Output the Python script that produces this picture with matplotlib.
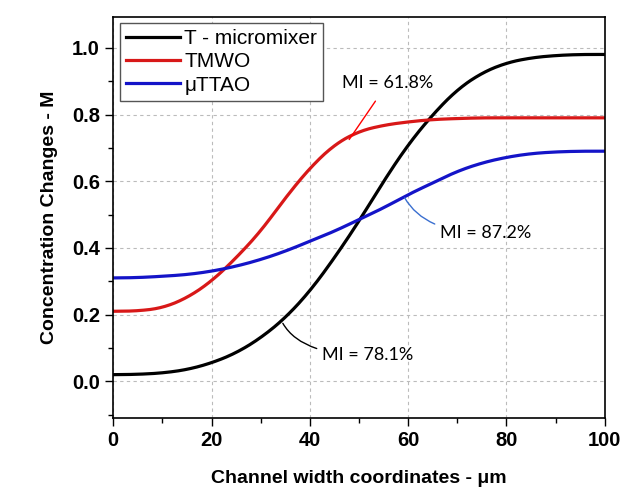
import numpy as np
import matplotlib
matplotlib.use('Agg')
import matplotlib.pyplot as plt
from matplotlib.ticker import MultipleLocator

plt.rcParams['font.family'] = ['Liberation Sans', 'DejaVu Sans']

# channel width positions (um) and concentration
x = [0, 5, 10, 15, 20, 25, 30, 35, 40, 45, 50, 55, 60, 65, 70, 75, 80, 85, 90, 95, 100]
t_mix = [0.02, 0.021, 0.025, 0.035, 0.055, 0.085, 0.13, 0.19, 0.27, 0.37, 0.48,
         0.60, 0.71, 0.80, 0.875, 0.925, 0.955, 0.97, 0.977, 0.98, 0.98]
tmwo = [0.21, 0.211, 0.22, 0.25, 0.30, 0.37, 0.45, 0.55, 0.64, 0.71, 0.75,
        0.768, 0.778, 0.785, 0.788, 0.79, 0.79, 0.79, 0.79, 0.79, 0.79]
muttao = [0.31, 0.311, 0.315, 0.32, 0.33, 0.345, 0.365, 0.39, 0.42, 0.45, 0.485,
          0.52, 0.56, 0.595, 0.63, 0.655, 0.672, 0.683, 0.688, 0.69, 0.69]

series = [('T - micromixer', t_mix, 'black'),
          ('TMWO', tmwo, '#d81818'),
          ('\u03bcTTAO', muttao, '#1414c8')]

fig = plt.figure(figsize=(6.26, 4.93), dpi=100)
ax = fig.add_axes([0.181, 0.152, 0.785, 0.814])

xs = np.linspace(0, 100, 401)
for name, vals, col in series:
    # smooth curve through the read points
    ys = np.interp(xs, x, vals)
    k = np.ones(21) / 21
    ys = np.convolve(np.pad(ys, 10, mode='edge'), k, mode='valid')
    ax.plot(xs, ys, color=col, lw=2.3, label=name)

ax.set_xlim(0, 100)
ax.set_ylim(-0.11, 1.093)
ax.xaxis.set_major_locator(MultipleLocator(20))
ax.xaxis.set_minor_locator(MultipleLocator(10))
ax.yaxis.set_major_locator(MultipleLocator(0.2))
ax.yaxis.set_minor_locator(MultipleLocator(0.1))
ax.yaxis.set_major_formatter(matplotlib.ticker.FormatStrFormatter('%.1f'))
ax.tick_params(which='major', length=6, width=1, labelsize=14.5)
ax.tick_params(which='minor', length=3.5, width=1)
for lab in ax.get_xticklabels() + ax.get_yticklabels():
    lab.set_fontweight('bold')
ax.grid(True, which='major', linestyle=(0, (3, 3)), color='#bbbbbb', lw=0.8)
for s in ax.spines.values():
    s.set_linewidth(1.2)

ax.set_xlabel('Channel width coordinates - \u03bcm', fontsize=14, fontweight='bold', labelpad=14)
ax.set_ylabel('Concentration Changes - M', fontsize=14, fontweight='bold', labelpad=10)

leg = ax.legend(loc='upper left', fontsize=15, fancybox=False, edgecolor='#555555',
                handlelength=2.6, handletextpad=0.2, borderpad=0.3, labelspacing=0.2,
                borderaxespad=0.3, framealpha=1)
leg.get_frame().set_linewidth(1.0)

afont = dict(fontsize=13, family=['Lato', 'DejaVu Sans'])
ax.annotate('MI = 61.8%', xy=(48, 0.725), xytext=(55.8, 0.893), ha='center', va='center',
            arrowprops=dict(arrowstyle='-', color='red', lw=1, shrinkB=0, shrinkA=6), **afont)
ax.annotate('MI = 87.2%', xy=(59.3, 0.55), xytext=(66.5, 0.445), ha='left', va='center',
            arrowprops=dict(arrowstyle='-', color='#3a6fd0', lw=1, shrinkB=0, shrinkA=2,
                            connectionstyle='angle3,angleA=0,angleB=-60'), **afont)
ax.annotate('MI = 78.1%', xy=(34.5, 0.174), xytext=(42.5, 0.078), ha='left', va='center',
            arrowprops=dict(arrowstyle='-', color='black', lw=1, shrinkB=0, shrinkA=2,
                            connectionstyle='angle3,angleA=0,angleB=-60'), **afont)

fig.savefig('out.png', dpi=100)
